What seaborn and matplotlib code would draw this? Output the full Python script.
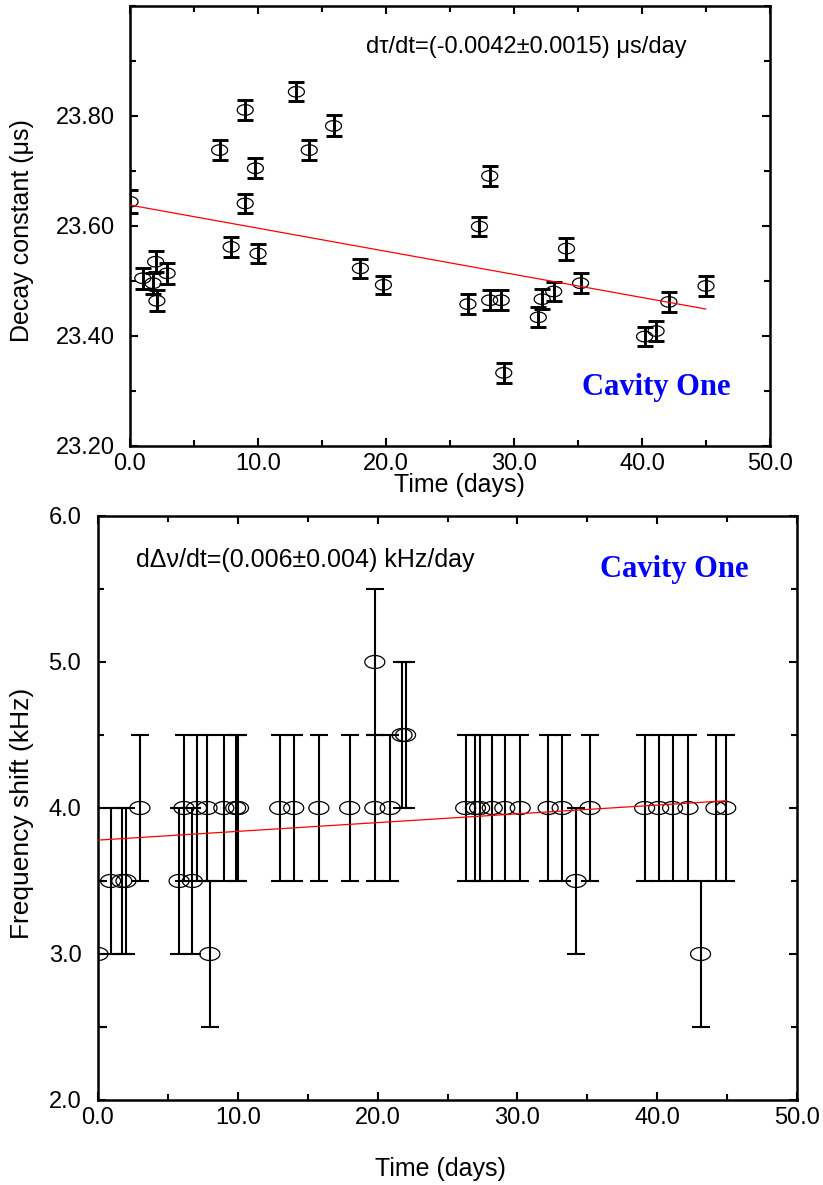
import numpy as np
import matplotlib
matplotlib.use("Agg")
import matplotlib.pyplot as plt
from matplotlib.path import Path
from matplotlib.ticker import MultipleLocator, FixedLocator, FormatStrFormatter
import seaborn as sns
import pandas as pd

# ---------------- data: top panel (decay constant) ----------------
tau_days = [0.0, 1.0, 1.8, 2.0, 2.1, 2.9, 7.0, 7.9, 9.0, 9.0, 9.8, 10.0,
            13.0, 14.0, 15.9, 18.0, 19.8, 26.4, 27.3, 28.1, 28.1, 29.0,
            29.2, 31.9, 32.2, 33.1, 34.1, 35.2, 40.2, 41.1, 42.1, 45.0]
tau_values = [23.644, 23.505, 23.496, 23.535, 23.464, 23.514, 23.738, 23.562,
              23.811, 23.641, 23.705, 23.550, 23.844, 23.738, 23.782, 23.523,
              23.493, 23.458, 23.599, 23.691, 23.465, 23.465, 23.333, 23.434,
              23.467, 23.481, 23.559, 23.496, 23.399, 23.409, 23.462, 23.491]
tau_errors = [0.021, 0.019, 0.019, 0.019, 0.019, 0.019, 0.018, 0.018,
              0.018, 0.018, 0.018, 0.017, 0.017, 0.018, 0.019, 0.017,
              0.017, 0.018, 0.018, 0.018, 0.018, 0.018, 0.018, 0.018,
              0.018, 0.018, 0.020, 0.018, 0.018, 0.018, 0.018, 0.018]
tau_fit_intercept = 23.638
tau_fit_slope = -0.0042
tau_fit_range = [0.0, 45.0]
tau_ticks = [23.2, 23.4, 23.6, 23.8]

# ---------------- data: bottom panel (frequency shift) ----------------
freq_days = [0.0, 0.9, 1.7, 2.0, 3.0, 5.8, 6.15, 6.75, 7.05, 7.8, 8.0, 9.0,
             9.85, 10.05, 13.0, 14.0, 15.8, 18.0, 19.8, 19.8, 20.9, 21.75,
             22.0, 26.3, 27.0, 27.3, 28.2, 29.1, 30.2, 32.2, 33.2, 34.2,
             35.2, 39.1, 40.1, 41.1, 42.2, 43.1, 44.2, 44.9]
freq_values = [3.0, 3.5, 3.5, 3.5, 4.0, 3.5, 4.0, 3.5, 4.0, 4.0, 3.0, 4.0,
               4.0, 4.0, 4.0, 4.0, 4.0, 4.0, 5.0, 4.0, 4.0, 4.5,
               4.5, 4.0, 4.0, 4.0, 4.0, 4.0, 4.0, 4.0, 4.0, 3.5,
               4.0, 4.0, 4.0, 4.0, 4.0, 3.0, 4.0, 4.0]
freq_errors = [0.5] * len(freq_days)
freq_fit_intercept = 3.78
freq_fit_slope = 0.006
freq_fit_range = [0.0, 45.0]

# ---------------- text ----------------
top_ylabel = "Decay constant (\u03bcs)"
bot_ylabel = "Frequency shift (kHz)"
xlabel = "Time (days)"
top_note = "d\u03c4/dt=(-0.0042\u00b10.0015) \u03bcs/day"
bot_note = "d\u0394\u03bd/dt=(0.006\u00b10.004) kHz/day"
cavity = "Cavity One"

sns.set_theme(style="ticks")
plt.rcParams["font.family"] = ["Liberation Sans", "DejaVu Sans"]
plt.rcParams["text.color"] = "black"
plt.rcParams["axes.labelcolor"] = "black"
plt.rcParams["xtick.color"] = "black"
plt.rcParams["ytick.color"] = "black"

fig = plt.figure(figsize=(8.23, 11.85), dpi=100)
ax1 = fig.add_axes([130/823, (1185-446)/1185, 640/823, 440/1185])
ax2 = fig.add_axes([98/823, (1185-1100)/1185, 699/823, 584/1185])


def ellipse_marker(ratio):
    t = np.linspace(0, 2*np.pi, 73)
    v = np.column_stack([np.cos(t), ratio*np.sin(t)])
    codes = [Path.MOVETO] + [Path.LINETO]*(len(v)-2) + [Path.CLOSEPOLY]
    return Path(v, codes)


def panel(ax, xs, ys, es, intercept, slope, xr, marker_w, ratio,
          elw, capsize):
    df = pd.DataFrame({"x": xs, "y": ys, "e": es})
    ax.errorbar(df["x"], df["y"], yerr=df["e"], fmt="none", ecolor="black",
                elinewidth=elw, capsize=capsize, capthick=elw, zorder=3)
    sns.scatterplot(data=df, x="x", y="y", ax=ax, marker=ellipse_marker(ratio),
                    s=marker_w**2, linewidth=0.9, zorder=4, legend=False)
    coll = ax.collections[-1]
    coll.set_facecolor("none")
    coll.set_edgecolor("black")
    fx = np.array(xr)
    fit = pd.DataFrame({"x": fx, "y": intercept + slope*fx})
    sns.lineplot(data=fit, x="x", y="y", ax=ax, color="red", linewidth=0.9,
                 zorder=5)


panel(ax1, tau_days, tau_values, tau_errors, tau_fit_intercept, tau_fit_slope,
      tau_fit_range, 11.5, 0.66, 2.1, 6)
panel(ax2, freq_days, freq_values, freq_errors, freq_fit_intercept,
      freq_fit_slope, freq_fit_range, 14.4, 0.65, 1.5, 6.2)

for ax in (ax1, ax2):
    ax.set_xlim(0, 50)
    ax.xaxis.set_major_locator(MultipleLocator(10))
    ax.xaxis.set_minor_locator(MultipleLocator(5))
    ax.xaxis.set_major_formatter(FormatStrFormatter("%.1f"))
    for s in ax.spines.values():
        s.set_visible(True)
        s.set_linewidth(1.8)
        s.set_color("black")
    ax.tick_params(which="both", direction="in", top=True, right=True,
                   color="black", width=1.5, labelcolor="black")
    ax.tick_params(which="major", length=6)
    ax.tick_params(which="minor", length=4)
    ax.tick_params(axis="x", which="major", labelsize=17, pad=5)
    ax.grid(False)

ax1.set_ylim(23.2, 24.0)
ax1.yaxis.set_major_locator(FixedLocator(tau_ticks))
ax1.yaxis.set_minor_locator(MultipleLocator(0.1))
ax1.yaxis.set_major_formatter(FormatStrFormatter("%.2f"))
ax1.tick_params(axis="y", which="major", labelsize=17, pad=11)

ax2.set_ylim(2.0, 6.0)
ax2.yaxis.set_major_locator(MultipleLocator(1.0))
ax2.yaxis.set_minor_locator(MultipleLocator(0.5))
ax2.yaxis.set_major_formatter(FormatStrFormatter("%.1f"))
ax2.tick_params(axis="y", which="major", labelsize=17, pad=12)

ax1.set_xlabel(xlabel, fontsize=18)
ax1.set_ylabel(top_ylabel, fontsize=18)
ax1.xaxis.set_label_coords(0.515, -0.062)
ax1.yaxis.set_label_coords(-0.150, 0.49)

ax2.set_xlabel(xlabel, fontsize=18)
ax2.set_ylabel(bot_ylabel, fontsize=19)
ax2.xaxis.set_label_coords(0.49, -0.097)
ax2.yaxis.set_label_coords(-0.092, 0.49)

ax1.text(0.619, 0.907, top_note, transform=ax1.transAxes, fontsize=17,
         ha="center", va="center", color="black")
ax1.text(0.823, 0.134, cavity, transform=ax1.transAxes, fontsize=22,
         fontweight="bold", family=["Liberation Serif", "DejaVu Serif"],
         color="#0000ff", ha="center", va="center")
ax2.text(0.296, 0.925, bot_note, transform=ax2.transAxes, fontsize=18,
         ha="center", va="center", color="black")
ax2.text(0.825, 0.909, cavity, transform=ax2.transAxes, fontsize=22,
         fontweight="bold", family=["Liberation Serif", "DejaVu Serif"],
         color="#0000ff", ha="center", va="center")

fig.savefig("out.png", dpi=100, facecolor="white")
